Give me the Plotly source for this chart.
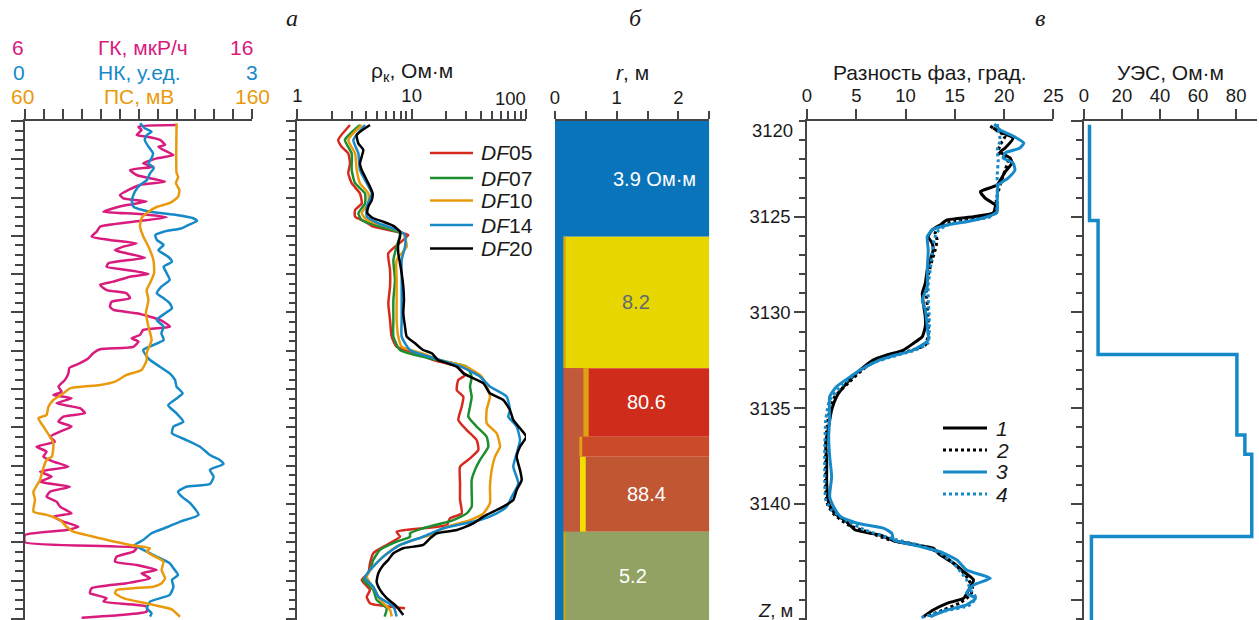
import plotly.graph_objects as go

# ======================= DATA =======================
DEPTH_TOP, DEPTH_BOTTOM = 3120.0, 3146.06

# Left panel: (depth m, value)
GK = [(3120.21,12.67),(3120.30,10.99),(3120.47,11.13),(3120.73,10.91),(3120.82,11.35),(3120.99,11.94),
      (3121.25,12.16),(3121.34,11.87),(3121.51,12.09),(3121.78,12.53),(3121.95,11.79),(3122.21,11.20),
      (3122.39,11.65),(3122.56,10.62),(3122.82,10.91),(3122.99,11.50),(3123.17,12.16),(3123.34,11.06),
      (3123.60,10.55),(3123.86,10.18),(3124.04,10.33),(3124.21,11.35),(3124.39,10.47),(3124.56,9.89),
      (3124.74,9.45),(3124.86,11.06),(3125.03,12.23),(3125.26,10.77),(3125.52,9.30),(3125.78,9.15),
      (3126.04,8.93),(3126.21,9.74),(3126.39,10.91),(3126.56,10.33),(3126.74,9.96),(3126.91,10.47),
      (3127.14,11.28),(3127.43,9.67),(3127.61,9.59),(3127.78,10.47),(3127.99,11.43),(3128.13,10.62),
      (3128.39,9.89),(3128.56,9.30),(3128.83,9.59),(3129.00,10.47),(3129.26,10.62),(3129.44,9.81),
      (3129.70,9.74),(3129.87,9.89),(3130.04,10.91),(3130.22,11.50),(3130.39,11.94),(3130.74,12.38),
      (3130.91,11.20),(3131.17,11.06),(3131.35,10.69),(3131.52,10.99),(3131.79,10.77),(3131.92,9.30),
      (3132.13,9.00),(3132.39,8.79),(3132.65,8.42),(3132.90,7.95),(3133.18,7.91),(3133.52,7.76),
      (3133.87,7.47),(3134.14,7.61),(3134.31,7.25),(3134.48,8.05),(3134.74,7.39),(3135.00,8.42),
      (3135.26,8.64),(3135.44,7.69),(3135.70,7.47),(3135.96,8.05),(3136.22,7.54),(3136.49,7.10),
      (3136.75,7.32),(3137.01,6.51),(3137.27,6.95),(3137.53,6.81),(3137.79,7.25),(3138.05,7.91),
      (3138.31,6.66),(3138.57,7.17),(3138.84,6.66),(3139.10,7.98),(3139.36,7.10),(3139.62,6.95),
      (3139.88,7.39),(3140.14,7.54),(3140.49,8.05),(3140.66,7.25),(3140.92,7.69),(3141.19,8.35),
      (3141.36,7.83),(3141.62,6.00),(3142.00,6.00),(3142.30,10.91),(3142.49,10.77),(3142.75,10.03),
      (3143.01,9.96),(3143.19,10.91),(3143.45,11.79),(3143.62,11.13),(3143.88,11.50),(3144.14,10.47),
      (3144.40,8.93),(3144.66,8.86),(3144.92,9.59),(3145.10,9.45),(3145.36,11.35),(3145.62,11.35),
      (3145.80,10.18),(3145.94,8.49)]

NK = [(3120.12,1.52),(3120.38,1.58),(3120.56,1.67),(3120.73,1.61),(3120.99,1.58),(3121.34,1.63),
      (3121.69,1.69),(3121.95,1.67),(3122.21,1.63),(3122.47,1.70),(3122.73,1.65),(3123.08,1.61),
      (3123.34,1.52),(3123.69,1.45),(3124.13,1.41),(3124.47,1.43),(3124.74,1.65),(3124.91,2.00),
      (3125.08,2.22),(3125.22,2.27),(3125.43,2.16),(3125.60,2.07),(3125.78,1.83),(3125.95,1.72),
      (3126.21,1.74),(3126.48,1.83),(3126.74,1.76),(3127.09,1.89),(3127.35,1.94),(3127.61,1.83),
      (3127.95,1.87),(3128.30,1.91),(3128.65,1.80),(3129.00,1.74),(3129.26,1.83),(3129.52,1.91),
      (3129.78,1.94),(3130.04,1.85),(3130.39,1.74),(3130.74,1.83),(3131.09,1.80),(3131.44,1.83),
      (3131.96,1.56),(3132.31,1.61),(3132.48,1.65),(3132.83,1.78),(3133.18,1.91),(3133.52,1.98),
      (3133.87,2.00),(3134.22,2.08),(3134.49,2.00),(3134.84,1.89),(3135.27,2.00),(3135.71,2.09),
      (3135.96,1.96),(3136.31,1.94),(3136.66,2.13),(3137.01,2.31),(3137.44,2.44),(3137.70,2.57),
      (3137.91,2.62),(3138.22,2.44),(3138.57,2.49),(3138.96,2.44),(3139.10,2.13),(3139.36,2.02),
      (3139.62,2.07),(3139.96,2.18),(3140.57,2.29),(3140.92,2.05),(3141.19,1.89),(3141.53,1.67),
      (3141.88,1.56),(3142.14,1.45),(3142.40,1.56),(3142.75,1.74),(3143.10,1.91),(3143.36,1.96),
      (3143.71,2.02),(3143.97,1.94),(3144.32,1.96),(3144.75,1.91),(3145.10,1.65),(3145.45,1.61),
      (3145.71,1.67),(3145.88,1.65)]

PS = [(3120.12,126.7),(3122.72,126.7),(3122.91,127.4),(3123.25,126.4),(3123.60,127.9),(3123.95,127.4),
      (3124.28,123.8),(3124.49,117.9),(3124.74,114.3),(3125.07,111.3),(3125.52,110.6),(3126.04,112.1),
      (3126.56,114.3),(3127.26,116.5),(3127.94,116.8),(3128.46,115.0),(3128.83,113.5),(3129.35,114.3),
      (3130.03,113.2),(3130.74,114.3),(3131.44,115.7),(3132.12,113.5),(3132.50,113.5),(3133.00,111.3),
      (3133.26,104.7),(3133.61,99.6),(3133.79,93.0),(3133.96,79.8),(3134.22,76.9),(3134.57,72.5),
      (3134.92,70.3),(3135.35,69.5),(3135.52,65.9),(3135.96,68.1),(3136.49,71.0),(3136.83,72.5),
      (3137.53,71.8),(3137.70,69.5),(3138.22,67.8),(3138.75,66.6),(3139.36,63.7),(3139.79,64.4),
      (3140.40,63.7),(3140.57,69.5),(3140.84,75.4),(3141.19,78.3),(3141.45,81.3),(3141.79,93.0),
      (3142.14,106.2),(3142.31,115.0),(3142.49,113.5),(3142.75,117.2),(3143.01,120.9),(3143.45,120.1),
      (3143.88,121.6),(3144.14,120.1),(3144.32,116.5),(3144.40,107.7),(3144.49,100.3),(3144.66,99.6),
      (3144.92,103.3),(3145.27,116.5),(3145.50,124.5),(3145.89,128.2)]

# Panel a: apparent resistivity, Ohm*m
DF05 = [(3120.21,2.89),(3120.99,2.28),(3121.34,2.44),(3121.69,2.79),(3122.21,2.89),(3122.73,2.79),
        (3123.25,2.99),(3123.78,3.53),(3124.30,3.66),(3124.65,3.20),(3124.99,3.20),(3125.26,3.91),
        (3125.52,4.62),(3125.78,7.39),(3125.95,9.35),(3126.21,8.45),(3126.91,6.25),(3127.78,6.47),
        (3128.65,6.47),(3129.52,6.25),(3130.39,6.47),(3131.26,6.69),(3131.79,7.39),(3132.13,11.1),
        (3132.48,15.5),(3132.83,24.8),(3133.27,29.3),(3133.52,25.6),(3134.05,24.8),(3134.40,28.3),
        (3134.92,27.4),(3135.61,25.6),(3136.14,30.3),(3136.66,37.0),(3137.18,38.3),(3137.62,32.4),
        (3138.05,26.5),(3138.92,26.5),(3139.79,26.5),(3140.49,27.4),(3140.75,21.6),(3141.10,20.3),
        (3141.45,7.39),(3141.71,7.91),(3142.14,6.05),(3142.57,4.62),(3143.10,4.32),(3143.62,4.18),
        (3143.97,3.66),(3144.49,4.32),(3144.84,4.05),(3145.19,4.32),(3145.45,8.75)]
DF07 = [(3120.21,3.53),(3120.99,2.61),(3121.69,2.99),(3122.56,2.99),(3123.25,3.20),(3123.78,3.91),
        (3124.30,3.91),(3124.82,3.42),(3125.17,3.66),(3125.52,5.29),(3125.87,7.91),(3126.56,7.39),
        (3127.26,6.92),(3128.30,7.15),(3129.35,6.92),(3130.39,6.92),(3131.26,6.92),(3131.96,7.91),
        (3132.48,16.6),(3132.83,30.3),(3133.35,33.5),(3133.87,32.4),(3134.40,33.5),(3134.92,32.4),
        (3135.44,31.3),(3135.96,37.0),(3136.49,45.3),(3137.01,46.8),(3137.70,39.6),(3138.22,35.8),
        (3138.75,33.5),(3139.44,33.5),(3140.14,33.5),(3140.49,30.3),(3140.84,23.1),(3141.27,12.6),
        (3141.53,9.68),(3141.71,9.68),(3141.97,7.39),(3142.40,5.29),(3142.92,4.62),(3143.45,4.32),
        (3143.97,3.78),(3144.49,4.62),(3145.01,4.94),(3145.45,6.05),(3145.88,5.80)]
DF10 = [(3120.21,3.66),(3120.99,2.79),(3121.69,3.20),(3122.56,3.31),(3123.25,3.53),(3123.78,4.18),
        (3124.30,4.18),(3124.82,3.66),(3125.17,4.05),(3125.52,6.05),(3125.87,8.45),(3126.56,9.05),
        (3127.26,7.39),(3128.30,7.39),(3129.35,7.39),(3130.39,7.39),(3131.26,7.64),(3131.79,8.18),
        (3132.13,12.2),(3132.48,17.7),(3132.83,30.0),(3133.35,41.0),(3133.87,45.3),(3134.40,48.4),
        (3135.09,45.3),(3135.78,45.3),(3136.31,55.4),(3137.01,59.3),(3137.53,53.6),(3138.22,50.1),
        (3139.10,48.4),(3139.96,48.4),(3140.49,42.4),(3140.84,32.4),(3141.19,20.3),(3141.62,14.5),
        (3141.88,10.3),(3142.23,7.39),(3142.75,5.65),(3143.27,4.62),(3143.80,4.05),(3144.49,4.78),
        (3145.01,5.29),(3145.53,6.47),(3145.88,6.69)]
DF14 = [(3120.21,3.91),(3120.99,3.09),(3121.69,3.42),(3122.56,3.53),(3123.25,4.05),(3123.78,4.48),
        (3124.47,4.05),(3124.99,4.05),(3125.34,5.11),(3125.69,7.39),(3125.95,8.75),(3126.56,8.75),
        (3127.26,8.18),(3128.30,8.18),(3129.35,8.18),(3130.39,8.18),(3131.26,8.18),(3131.96,9.68),
        (3132.48,17.7),(3132.83,27.0),(3133.35,39.6),(3133.87,48.4),(3134.40,67.8),(3135.09,72.4),
        (3135.44,70.0),(3135.96,82.9),(3136.66,88.6),(3137.36,82.9),(3138.05,77.4),(3138.92,85.7),
        (3139.62,75.0),(3140.14,67.8),(3140.49,55.4),(3140.84,39.6),(3141.27,18.9),(3141.71,12.6),
        (3142.14,7.91),(3142.75,5.65),(3143.45,4.32),(3143.88,3.91),(3144.32,4.62),(3144.84,5.11),
        (3145.36,6.92),(3145.88,7.39)]
DF20 = [(3120.21,4.32),(3120.73,3.31),(3121.17,3.42),(3121.51,3.78),(3121.86,3.66),(3122.21,3.53),
        (3122.56,3.66),(3122.91,3.91),(3123.43,4.32),(3123.78,4.56),(3124.13,4.48),(3124.47,4.18),
        (3124.82,4.10),(3125.08,4.62),(3125.26,5.65),(3125.48,6.92),(3125.78,7.91),(3126.04,7.91),
        (3126.39,7.64),(3126.91,7.64),(3127.43,7.91),(3127.95,8.18),(3128.65,8.45),(3129.35,8.57),
        (3130.04,8.45),(3130.74,8.75),(3131.26,9.05),(3131.61,10.7),(3131.96,12.6),(3132.13,15.0),
        (3132.48,17.0),(3132.83,24.8),(3133.18,28.3),(3133.70,42.4),(3134.22,48.4),(3134.57,63.3),
        (3135.09,72.4),(3135.61,77.4),(3136.05,88.6),(3136.49,100.5),(3137.01,88.6),(3137.53,82.9),
        (3138.22,88.6),(3138.75,91.7),(3139.27,82.9),(3139.79,77.4),(3140.14,63.3),(3140.66,42.4),
        (3141.01,34.6),(3141.36,24.8),(3141.53,16.6),(3141.79,14.5),(3142.14,12.6),(3142.31,8.45),
        (3142.57,6.92),(3142.92,6.25),(3143.19,5.65),(3143.62,5.11),(3144.06,4.94),(3144.49,5.29),
        (3144.92,6.05),(3145.36,7.39),(3145.80,8.45)]
DF_SERIES = [("05", DF05), ("07", DF07), ("10", DF10), ("14", DF14), ("20", DF20)]

# Panel б: layered model
LAYER_BOUNDS = [3120.0, 3126.04, 3132.91, 3136.49, 3137.53, 3141.45, 3146.06]
LAYER_LABELS = ["3.9 Ом·м", "8.2", "80.6", "", "88.4", "5.2"]
BOREHOLE_R = 0.135
INVADED_R = [None, None, 0.459, 0.394, 0.405, None]
RING_R = [None, (0.135, 0.173), (0.459, 0.546), (0.394, 0.442), (0.405, 0.498), (0.146, 0.173)]

# Panel в: phase difference, degrees
PHASE1 = [(3120.37,18.9),(3120.63,19.9),(3120.89,20.9),(3121.41,20.1),(3121.62,19.6),(3121.93,20.6),
          (3122.19,20.8),(3122.66,20.1),(3123.34,19.3),(3123.69,17.6),(3124.04,18.1),(3124.39,19.1),
          (3124.80,18.9),(3125.00,16.9),(3125.17,14.2),(3125.43,13.5),(3125.69,12.7),(3126.04,12.3),
          (3126.39,12.7),(3126.74,12.8),(3127.26,12.5),(3127.78,12.2),(3128.48,12.0),(3129.00,11.7),
          (3129.52,11.8),(3130.22,12.0),(3130.74,12.0),(3131.26,11.7),(3131.61,10.8),(3131.96,9.8),
          (3132.22,8.1),(3132.48,6.7),(3133.00,5.4),(3133.70,4.0),(3134.40,3.0),(3135.09,2.5),
          (3135.96,2.2),(3136.83,1.9),(3137.87,2.0),(3138.92,2.0),(3139.96,2.2),(3140.49,2.8),
          (3140.92,4.0),(3141.36,4.9),(3141.62,7.4),(3141.97,9.1),(3142.31,12.8),(3142.66,13.5),
          (3143.10,14.9),(3143.54,15.9),(3143.97,16.9),(3144.49,16.4),(3144.92,15.9),(3145.19,14.2),
          (3145.54,12.8),(3145.89,11.8)]
PHASE2 = [(3120.26,18.6),(3120.52,19.3),(3120.78,20.1),(3121.25,19.6),(3121.62,19.4),(3122.04,20.4),
          (3122.56,20.1),(3123.34,19.6),(3124.13,19.2),(3124.80,19.2),(3125.01,18.1),(3125.22,15.0),
          (3125.48,13.5),(3125.85,13.0),(3126.21,13.2),(3126.74,13.0),(3127.26,12.7),(3128.04,12.3),
          (3128.83,12.1),(3129.61,12.2),(3130.39,12.3),(3131.17,12.3),(3131.70,12.0),(3131.96,10.7),
          (3132.22,8.9),(3132.48,7.1),(3133.00,5.6),(3133.68,4.2),(3134.41,2.8),(3135.09,2.3),
          (3136.14,2.0),(3137.70,1.9),(3139.27,1.9),(3140.05,2.1),(3140.57,2.8),(3141.10,4.2),
          (3141.51,6.4),(3141.88,8.4),(3142.19,11.5),(3142.56,13.5),(3143.08,14.8),(3143.55,15.8),
          (3143.97,16.4),(3144.39,16.8),(3144.75,16.6),(3145.17,15.5),(3145.54,13.8),(3145.90,12.0)]
PHASE3 = [(3120.16,19.0),(3120.47,19.6),(3120.84,21.1),(3121.15,22.0),(3121.41,21.6),(3121.67,20.1),
          (3121.93,19.9),(3122.19,20.9),(3122.56,21.1),(3122.98,20.4),(3123.34,19.4),(3124.13,19.3),
          (3124.75,19.3),(3125.00,18.3),(3125.26,16.2),(3125.43,14.2),(3125.69,12.7),(3126.04,12.2),
          (3126.74,12.3),(3127.78,12.2),(3128.65,12.2),(3129.35,11.7),(3129.87,12.0),(3130.74,12.2),
          (3131.44,12.3),(3131.96,10.8),(3132.31,8.4),(3132.48,7.4),(3133.00,5.4),(3133.35,4.4),
          (3133.87,3.0),(3134.40,2.3),(3135.44,2.3),(3136.49,2.2),(3137.53,2.3),(3138.57,2.5),
          (3139.62,2.3),(3140.14,2.7),(3140.66,3.4),(3141.01,5.1),(3141.27,7.8),(3141.53,8.6),
          (3141.88,8.8),(3142.23,11.5),(3142.49,13.5),(3142.92,15.2),(3143.45,16.2),(3143.88,18.6),
          (3144.23,16.9),(3144.66,16.2),(3144.92,17.1),(3145.27,16.2),(3145.54,14.2),(3145.89,12.5)]
PHASE4 = [(3120.16,19.3),(3120.47,19.4),(3120.99,19.6),(3121.51,19.3),(3122.04,19.4),(3122.82,19.3),
          (3123.60,19.3),(3124.39,19.3),(3124.75,19.2),(3125.01,18.6),(3125.27,15.6),(3125.48,14.0),
          (3125.80,13.2),(3126.21,12.9),(3126.99,12.7),(3127.78,12.5),(3128.56,12.3),(3129.35,12.3),
          (3130.13,12.4),(3130.91,12.4),(3131.59,12.3),(3131.96,11.0),(3132.27,8.9),(3132.59,6.9),
          (3133.11,5.1),(3133.79,3.6),(3134.57,2.3),(3135.61,1.9),(3137.18,1.8),(3138.75,1.8),
          (3139.79,1.9),(3140.31,2.5),(3140.84,3.9),(3141.36,5.9),(3141.78,8.4),(3142.14,11.3),
          (3142.51,13.3),(3143.03,14.7),(3143.55,15.6),(3143.97,16.2),(3144.49,16.6),(3144.86,17.1),
          (3145.27,16.6),(3145.64,13.5),(3145.95,11.5)]

# УЭС step profile
UES_TOPS = [3120.2, 3125.2, 3132.2, 3136.4, 3137.4, 3141.7]
UES_VALUES = [3.0, 7.5, 80.4, 84.6, 88.2, 4.0]

# ======================= STYLE / LAYOUT =======================
W, H, TOP = 1259, 620, 121
FONT = "Liberation Sans"
TXT = "#1a1a1a"
AX = "#444444"
MAG, BLU, ORA = "#d81b7d", "#168ac9", "#e89a0c"
DF_COLORS = ["#d62a1e", "#1b8f2e", "#e89a0c", "#168ac9", "#000000"]
TICK_SIZE, TITLE_SIZE = 18.5, 21


def px(x):
    return x / W


def py(y):
    return (H - y) / (H - TOP)


def unzip(pairs):
    return [p[0] for p in pairs], [p[1] for p in pairs]


fig = go.Figure()

# ---- left panel ----
for series, ax, col in [(GK, "x", MAG), (NK, "x2", BLU), (PS, "x3", ORA)]:
    d, v = unzip(series)
    fig.add_trace(go.Scatter(x=v, y=d, xaxis=ax, yaxis="y", mode="lines",
                             line=dict(color=col, width=2.5, shape="spline", smoothing=0.5),
                             showlegend=False, hoverinfo="skip"))

# ---- panel a ----
for (name, series), col in zip(DF_SERIES, DF_COLORS):
    d, v = unzip(series)
    fig.add_trace(go.Scatter(x=v, y=d, xaxis="x4", yaxis="y2", mode="lines",
                             line=dict(color=col, width=2.5, shape="spline", smoothing=0.5),
                             showlegend=False, hoverinfo="skip"))

# ---- panel в ----
PH_STYLE = [("#000000", "solid"), ("#000000", "dot"), (BLU, "solid"), (BLU, "dot")]
for series, (col, dash) in zip([PHASE1, PHASE2, PHASE3, PHASE4], PH_STYLE):
    d, v = unzip(series)
    fig.add_trace(go.Scatter(x=v, y=d, xaxis="x6", yaxis="y4", mode="lines",
                             line=dict(color=col, width=3, dash=dash, shape="spline", smoothing=0.5),
                             showlegend=False, hoverinfo="skip"))

# ---- УЭС ----
ux, uy = [], []
bottoms = UES_TOPS[1:] + [DEPTH_BOTTOM]
for v, t, b in zip(UES_VALUES, UES_TOPS, bottoms):
    ux += [v, v]
    uy += [t, b]
fig.add_trace(go.Scatter(x=ux, y=uy, xaxis="x7", yaxis="y5", mode="lines",
                         line=dict(color=BLU, width=3.5), showlegend=False, hoverinfo="skip"))

# ---- panel б : layered model shapes ----
FORM_COLORS = ["#0a74ba", "#e8d600", "#d02c1b", "#cb4a28", "#c05632", "#91a262"]
INV_COLOR = "#c05a3a"
RING_COLORS = [None, "#dca300", "#e0a012", "#e0a012", "#f0df00", "#dca300"]
shapes = []
for i in range(len(LAYER_BOUNDS) - 1):
    t, b = LAYER_BOUNDS[i], LAYER_BOUNDS[i + 1]
    shapes.append(dict(type="rect", xref="x5", yref="y3", x0=0, x1=2.5, y0=t, y1=b,
                       fillcolor=FORM_COLORS[i], line=dict(width=0), layer="below"))
    if INVADED_R[i]:
        shapes.append(dict(type="rect", xref="x5", yref="y3", x0=BOREHOLE_R, x1=INVADED_R[i], y0=t, y1=b,
                           fillcolor=INV_COLOR, line=dict(width=0), layer="below"))
    if RING_R[i]:
        shapes.append(dict(type="rect", xref="x5", yref="y3", x0=RING_R[i][0], x1=RING_R[i][1], y0=t, y1=b,
                           fillcolor=RING_COLORS[i], line=dict(width=0), layer="below"))
shapes.append(dict(type="rect", xref="x5", yref="y3", x0=0, x1=BOREHOLE_R,
                   y0=LAYER_BOUNDS[0], y1=LAYER_BOUNDS[-1], fillcolor="#0a74ba",
                   line=dict(width=0), layer="below"))

annotations = []
LABEL_R = [1.62, 1.32, 1.49, 1.49, 1.49, 1.27]
LABEL_COL = ["white", "#5e6a78", "white", "white", "white", "white"]
for i, lab in enumerate(LAYER_LABELS):
    if lab:
        mid = (LAYER_BOUNDS[i] + LAYER_BOUNDS[i + 1]) / 2
        annotations.append(dict(x=LABEL_R[i], y=mid, xref="x5", yref="y3", text=lab, showarrow=False,
                                font=dict(family=FONT, size=20, color=LABEL_COL[i])))

# ---- legend for panel a ----
for k, ((name, _), col) in enumerate(zip(DF_SERIES, DF_COLORS)):
    yy = [153, 178, 200.5, 225, 248.5][k]
    shapes.append(dict(type="line", xref="paper", yref="paper", x0=px(430), x1=px(473), y0=py(yy), y1=py(yy),
                       line=dict(color=col, width=2.5)))
    annotations.append(dict(x=px(479), y=py(yy), xref="paper", yref="paper", xanchor="left", yanchor="middle",
                            text="<i>DF</i>" + name, showarrow=False,
                            font=dict(family=FONT, size=TITLE_SIZE, color=TXT)))

# ---- legend for panel в ----
for k, (col, dash) in enumerate(PH_STYLE):
    yy = [428, 450, 472, 494][k]
    shapes.append(dict(type="line", xref="paper", yref="paper", x0=px(943), x1=px(987), y0=py(yy), y1=py(yy),
                       line=dict(color=col, width=3, dash=dash)))
    annotations.append(dict(x=px(994), y=py(yy), xref="paper", yref="paper", xanchor="left", yanchor="middle",
                            text="<i>%d</i>" % (k + 1), showarrow=False,
                            font=dict(family=FONT, size=TITLE_SIZE, color=TXT)))


def ann(x, y, text, color=TXT, size=TITLE_SIZE, anchor="center", family=FONT):
    annotations.append(dict(x=px(x), y=py(y), xref="paper", yref="paper", xanchor=anchor, yanchor="middle",
                            text=text, showarrow=False, font=dict(family=family, size=size, color=color)))


# header texts
ann(18, 47, "6", MAG); ann(143, 47, "ГК, мкР/ч", MAG); ann(241, 47, "16", MAG)
ann(19, 72, "0", BLU); ann(139, 72, "НК, у.ед.", BLU); ann(252, 72, "3", BLU)
ann(22, 97, "60", ORA); ann(139, 97, "ПС, мВ", ORA); ann(252, 97, "160", ORA)
ann(412, 72, "ρ<sub>к</sub>, Ом·м")
ann(528, 98, "100", size=TICK_SIZE, anchor="right")
ann(632, 72, "<i>r</i>, м")
ann(930, 72, "Разность фаз, град.")
ann(1170, 72, "УЭС, Ом·м")
ann(795, 130, "3120", size=TICK_SIZE, anchor="right")
ann(795, 610, "<i>Z</i>, м", size=TICK_SIZE, anchor="right")
ann(292, 18, "<i>а</i>", size=24, family="Liberation Serif")
ann(636, 18, "<i>б</i>", size=24, family="Liberation Serif")
ann(1040, 18, "<i>в</i>", size=24, family="Liberation Serif")

tickfont = dict(family=FONT, size=TICK_SIZE, color=TXT)


def depth_axis(anchor, major, minor, majlen, minlen, labels=False, tickvals=None):
    d = dict(domain=[0, 1], range=[DEPTH_BOTTOM, DEPTH_TOP], anchor=anchor, showgrid=False, zeroline=False,
             automargin=False, showline=True, linecolor=AX, linewidth=1.5, ticks="outside", tickcolor=AX,
             tickwidth=1.5, ticklen=majlen, showticklabels=labels, tickfont=tickfont,
             minor=dict(ticks="outside", dtick=minor, tick0=DEPTH_TOP, ticklen=minlen, tickcolor=AX,
                        tickwidth=1.5, showgrid=False))
    if tickvals is not None:
        d.update(tickmode="array", tickvals=tickvals)
    else:
        d.update(tickmode="linear", tick0=DEPTH_TOP, dtick=major)
    return d


def top_axis(domain, rng, anchor, **kw):
    d = dict(domain=[px(domain[0]), px(domain[1])], range=rng, anchor=anchor, side="top", showgrid=False,
             zeroline=False, automargin=False, showline=True, linecolor=AX, linewidth=1.5, ticks="outside",
             tickcolor=AX, tickwidth=1.5, ticklen=10, tickfont=tickfont)
    d.update(kw)
    return d


fig.update_layout(
    template="none",
    width=W, height=H, autosize=False,
    margin=dict(l=0, r=0, t=TOP, b=0, pad=0),
    paper_bgcolor="white", plot_bgcolor="white",
    showlegend=False,
    xaxis=top_axis((25, 252.3), [6, 16], "y", tickmode="array",
                   tickvals=[6 + i * 10 / 12 for i in range(13)], showticklabels=False),
    xaxis2=dict(range=[0, 3], overlaying="x", anchor="y", visible=False, automargin=False),
    xaxis3=dict(range=[60, 160], overlaying="x", anchor="y", visible=False, automargin=False),
    yaxis=depth_axis("x", 2, 0.5, 12, 8),
    xaxis4=top_axis((297.3, 526), [0, 2], "y2", type="log", tickmode="array", tickvals=[1, 10, 100],
                    ticktext=["1", "10", ""],
                    minor=dict(ticks="outside", tickmode="array",
                               tickvals=[2, 3, 4, 5, 6, 7, 8, 9, 20, 30, 40, 50, 60, 70, 80, 90],
                               ticklen=8, tickcolor=AX, tickwidth=1.5, showgrid=False)),
    yaxis2=depth_axis("x4", 2, 0.5, 10, 7),
    xaxis5=top_axis((555, 709.3), [0, 2.5], "y3", tickmode="array", tickvals=[0, 0.5, 1, 1.5, 2, 2.5],
                    ticktext=["0", "", "1", "", "2", ""], ticklen=8),
    yaxis3=dict(domain=[0, 1], range=[DEPTH_BOTTOM, DEPTH_TOP], anchor="x5", visible=False, automargin=False),
    xaxis6=top_axis((807, 1053.4), [0, 25], "y4", tickmode="linear", tick0=0, dtick=5),
    yaxis4=depth_axis("x6", 5, 1, 11, 6.5, labels=True, tickvals=[3125, 3130, 3135, 3140]),
    xaxis7=top_axis((1083.8, 1256.7), [0, 90.8], "y5", tickmode="array", tickvals=[0, 20, 40, 60, 80]),
    yaxis5=depth_axis("x7", 5, 1, 11, 6.5),
    shapes=shapes,
    annotations=annotations,
)

fig.write_html("out.html", config={"displayModeBar": False},
               post_script="document.body.style.margin='0';document.body.style.overflow='hidden';")
